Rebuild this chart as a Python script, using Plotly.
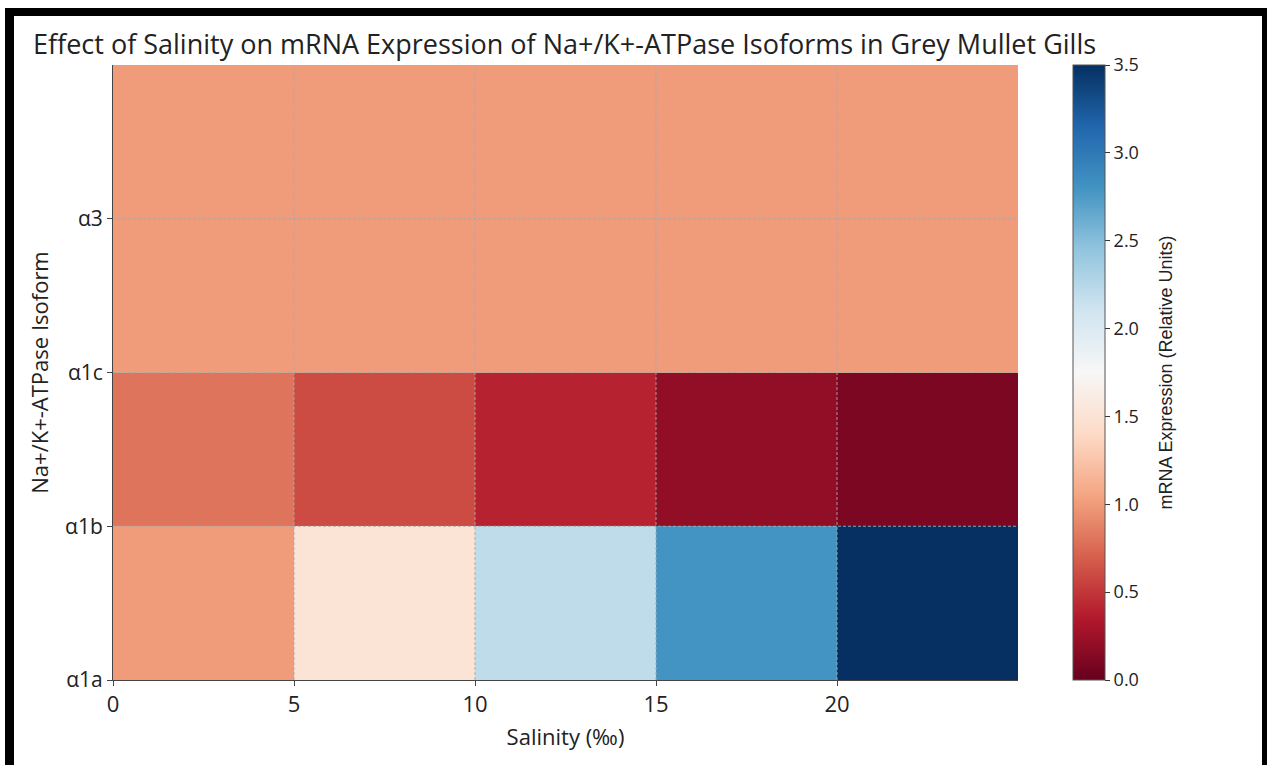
import plotly.graph_objects as go

# ---- data ----
salinity_edges = [0, 5, 10, 15, 20, 25]
isoform_edges = [0, 1, 2, 3, 4]
isoforms = ["α1a", "α1b", "α1c", "α3"]
x_ticks = [0, 5, 10, 15, 20]
expr_a1a = [1.0, 1.5, 2.2, 2.8, 3.5]
expr_a1b = [0.8, 0.6, 0.4, 0.2, 0.1]
expr_a1c = [1.0, 1.0, 1.0, 1.0, 1.0]
expr_a3 = [1.0, 1.0, 1.0, 1.0, 1.0]
cbar_ticks = [0.0, 0.5, 1.0, 1.5, 2.0, 2.5, 3.0, 3.5]

rdbu = ['rgb(103,0,31)', 'rgb(178,24,43)', 'rgb(214,96,77)', 'rgb(244,165,130)',
        'rgb(253,219,199)', 'rgb(247,247,247)', 'rgb(209,229,240)', 'rgb(146,197,222)',
        'rgb(67,147,195)', 'rgb(33,102,172)', 'rgb(5,48,97)']
colorscale = [[i / (len(rdbu) - 1), c] for i, c in enumerate(rdbu)]

W, H = 1267, 765
L, R, T, B = 113, 249, 65, 85
PW, PH = W - L - R, H - T - B

def px(x):
    return (x - L) / PW

def py(y):
    return (H - B - y) / PH

FONT = "Open Sans"

fig = go.Figure()
fig.add_trace(go.Heatmap(
    x=salinity_edges, y=isoform_edges,
    z=[expr_a1a, expr_a1b, expr_a1c, expr_a3],
    colorscale=colorscale, zmin=0, zmax=3.5,
    xgap=0, ygap=0,
    colorbar=dict(
        x=px(1073), xanchor="left", xpad=0, ypad=0, y=0.5, yanchor="middle", len=1, lenmode="fraction",
        thickness=32, thicknessmode="pixels", outlinewidth=1, outlinecolor="#555",
        tickvals=cbar_ticks, ticktext=[f"{v:.1f}" for v in cbar_ticks],
        ticks="outside", ticklen=5, tickcolor="#333", tickwidth=1,
        tickfont=dict(family=FONT, size=18, color="#222"),
    ),
))

shapes = []
# gridlines above the heatmap (matplotlib style)
for v in x_ticks[1:]:
    shapes.append(dict(type="line", xref="x", yref="paper", x0=v, x1=v, y0=0, y1=1,
                       line=dict(color="rgba(170,170,170,0.9)", width=1, dash="3px,2px"), layer="above"))
for v in isoform_edges[1:-1]:
    shapes.append(dict(type="line", xref="paper", yref="y", x0=0, x1=1, y0=v, y1=v,
                       line=dict(color="rgba(170,170,170,0.9)", width=1, dash="3px,2px"), layer="above"))
# black screenshot frame
frame = [(5, 8, W, 16), (5, 8, 14, H), (1262, 8, W, H)]
for x0, y0, x1, y1 in frame:
    shapes.append(dict(type="rect", xref="paper", yref="paper",
                       x0=px(x0), x1=px(x1), y0=py(y0), y1=py(y1),
                       fillcolor="black", line=dict(width=0), layer="above"))

fig.update_layout(
    width=W, height=H,
    margin=dict(l=L, r=R, t=T, b=B),
    paper_bgcolor="white", plot_bgcolor="white",
    font=dict(family=FONT, color="#222"),
    title=dict(text="Effect of Salinity on mRNA Expression of Na+/K+-ATPase Isoforms in Grey Mullet Gills",
               x=33 / W, xanchor="left", xref="container",
               y=1 - 45 / H, yanchor="middle", yref="container",
               font=dict(family=FONT, size=27, color="#222")),
    xaxis=dict(range=[0, 25], tickvals=x_ticks, ticks="outside", ticklen=5, tickcolor="#444",
               showgrid=False, zeroline=False, showline=True, linecolor="#444", linewidth=1,
               tickfont=dict(size=22, color="#222"),
               title=dict(text="Salinity (‰)", font=dict(size=22, color="#222"), standoff=12)),
    yaxis=dict(range=[0, 4], tickvals=isoform_edges[:-1], ticktext=isoforms,
               ticks="outside", ticklen=5, tickcolor="#444",
               showgrid=False, zeroline=False, showline=True, linecolor="#444", linewidth=1,
               tickfont=dict(size=21, color="#222"),
               title=dict(text="Na+/K+-ATPase Isoform", font=dict(size=22, color="#222"), standoff=10)),
    shapes=shapes,
    annotations=[dict(text="mRNA Expression (Relative Units)", textangle=-90,
                      xref="paper", yref="paper", x=px(1165), y=0.5,
                      xanchor="center", yanchor="middle", showarrow=False,
                      font=dict(family="Liberation Sans", size=18, color="#222"))],
)

fig.write_html("out.html", config={"displayModeBar": False},
               post_script="document.body.style.margin='0';document.body.style.overflow='hidden';")
